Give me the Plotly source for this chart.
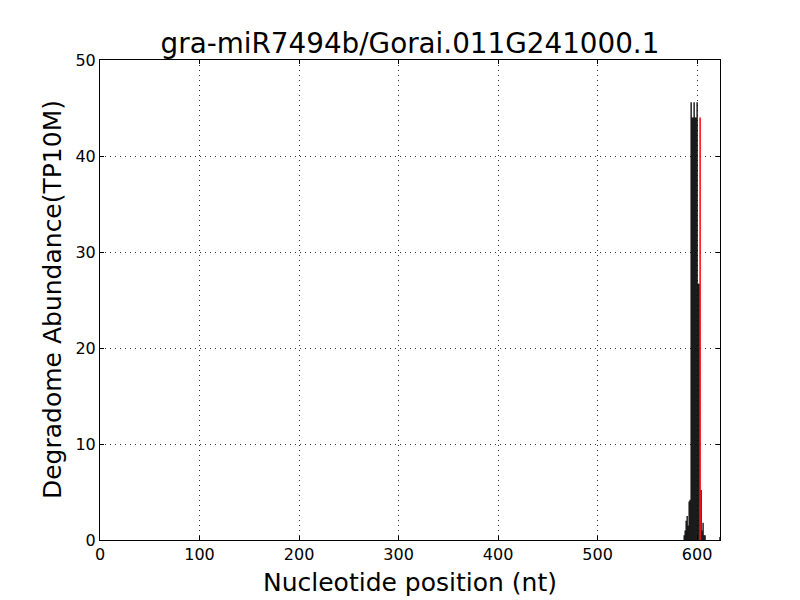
import plotly.graph_objects as go

title = "gra-miR7494b/Gorai.011G241000.1"
x_label = "Nucleotide position (nt)"
y_label = "Degradome Abundance(TP10M)"
positions = [587, 588, 589, 590, 591, 592, 593, 594, 595, 596, 597, 598, 599, 600, 601, 602, 604, 605, 606, 607, 608, 623]
values = [0.5, 1.0, 2.0, 2.5, 1.5, 4.0, 4.2, 45.6, 44.0, 44.0, 45.6, 44.0, 44.0, 45.6, 26.7, 26.7, 5.2, 1.0, 1.8, 0.5, 0.5, 0.3]
target_pos = [603]
target_val = [44.0]
x_max = 623
y_max = 50
x_ticks = [0, 100, 200, 300, 400, 500, 600]
y_ticks = [0, 10, 20, 30, 40, 50]

def seg(xs, ys):
    X, Y = [], []
    for a, b in zip(xs, ys):
        X += [a, a, None]
        Y += [0, b, None]
    return X, Y

bx, by = seg(positions, values)
rx, ry = seg(target_pos, target_val)

fig = go.Figure()
fig.add_trace(go.Scatter(x=bx, y=by, mode="lines", line=dict(color="black", width=1.3),
                         hoverinfo="skip", showlegend=False))
fig.add_trace(go.Scatter(x=rx, y=ry, mode="lines", line=dict(color="red", width=1.5),
                         hoverinfo="skip", showlegend=False))

font = "DejaVu Sans"
axis_common = dict(showline=True, linecolor="black", linewidth=1, mirror="ticks",
                   ticks="inside", ticklen=4, tickcolor="black",
                   showgrid=True, gridcolor="#333333", griddash="1px,4px", gridwidth=1,
                   zeroline=False, tickfont=dict(family=font, size=16, color="black"))

fig.update_layout(
    width=800, height=600,
    paper_bgcolor="white", plot_bgcolor="white",
    margin=dict(l=92, r=88, t=52, b=68),
    title=dict(text=title, x=0.5, xref="paper", xanchor="center", y=0.942, yanchor="middle",
               font=dict(family=font, size=27.8, color="black")),
    xaxis=dict(range=[0, x_max], tickvals=x_ticks, **axis_common),
    yaxis=dict(range=[0, y_max], tickvals=y_ticks, **axis_common),
    annotations=[
        dict(text=x_label, x=0.5, y=-0.0875, xref="paper", yref="paper",
             xanchor="center", yanchor="middle", showarrow=False,
             font=dict(family=font, size=25, color="black")),
        dict(text=y_label, x=-0.0774, y=0.5, xref="paper", yref="paper",
             xanchor="center", yanchor="middle", showarrow=False, textangle=-90,
             font=dict(family=font, size=25, color="black")),
    ],
)

fig.write_html("out.html")
